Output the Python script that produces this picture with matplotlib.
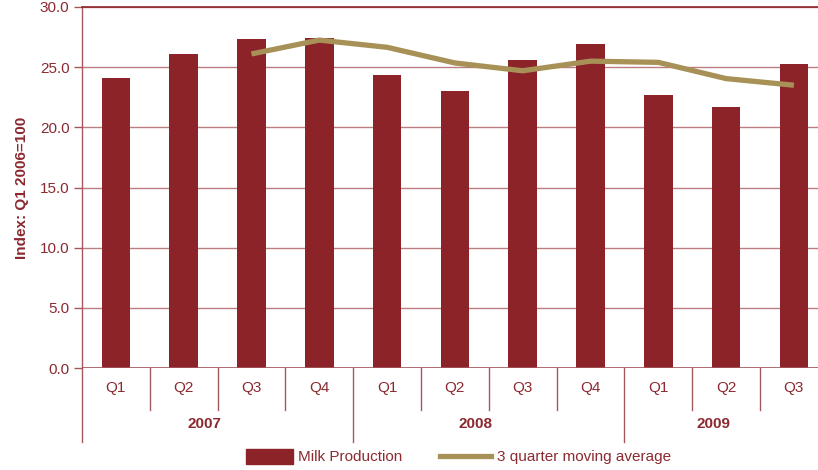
import matplotlib
matplotlib.use("Agg")
import matplotlib.pyplot as plt
from matplotlib.patches import Rectangle
from matplotlib.lines import Line2D
import matplotlib.transforms as mtransforms

plt.rcParams['font.family'] = ['Liberation Sans', 'DejaVu Sans']

quarters = ["Q1", "Q2", "Q3", "Q4", "Q1", "Q2", "Q3", "Q4", "Q1", "Q2", "Q3"]
years = ["2007", "2008", "2009"]
year_sizes = [4, 4, 3]
milk_production = [24.1, 26.1, 27.35, 27.4, 24.35, 23.05, 25.6, 26.95, 22.7, 21.7, 25.25]
moving_average = [None, None, 26.1, 27.25, 26.65, 25.35, 24.7, 25.5, 25.4, 24.05, 23.5]
y_ticks = [0.0, 5.0, 10.0, 15.0, 20.0, 25.0, 30.0]

BAR = "#8b2329"
LINE = "#a89157"
TEXT = "#8b2a30"
GRID = "#bb7d81"
AXIS = "#a5575c"

W, H = 818, 470
fig = plt.figure(figsize=(W / 100, H / 100), dpi=100)
ax = fig.add_axes([82 / W, (H - 368) / H, 11 * 67.8 / W, 361 / H])

x = list(range(len(quarters)))
ax.bar(x, milk_production, width=0.42, color=BAR, zorder=3)
ma_x = [i for i, v in zip(x, moving_average) if v is not None]
ma_y = [v for v in moving_average if v is not None]
ax.plot(ma_x, ma_y, color=LINE, lw=3.8, zorder=4, solid_capstyle="butt")

ax.set_xlim(-0.5, len(quarters) - 0.5)
ax.set_ylim(0, 30)
ax.set_yticks(y_ticks)
ax.set_yticklabels([f"{t:.1f}" for t in y_ticks], color=TEXT, fontsize=11)
ax.tick_params(axis="y", length=6, width=1, color=AXIS, pad=3)
ax.set_xticks([])
ax.grid(axis="y", color=GRID, lw=1, zorder=0)
for side in ["right", "left", "bottom"]:
    ax.spines[side].set_visible(False)
ax.spines["top"].set_color(BAR)
ax.spines["top"].set_linewidth(1.2)
ax.axhline(0, color=AXIS, lw=1.2, zorder=5)

ax.set_ylabel("Index: Q1 2006=100", color=TEXT, fontsize=11, fontweight="bold", labelpad=8)

trans = mtransforms.blended_transform_factory(ax.transData, ax.transAxes)
# left axis line running down through the category rows
ax.plot([-0.5, -0.5], [1, -0.205], transform=trans, color=AXIS, lw=1, clip_on=False)

# quarter labels and dividers
for i, q in enumerate(quarters):
    ax.text(i, -0.055, q, transform=trans, ha="center", va="center", color=TEXT, fontsize=11)
start = 0
boundaries = set()
for n in year_sizes:
    start += n
    boundaries.add(start - 0.5)
for k in range(1, len(quarters)):
    xb = k - 0.5
    low = -0.205 if xb in boundaries else -0.115
    ax.plot([xb, xb], [0, low], transform=trans, color=AXIS, lw=1, clip_on=False)

# year labels
start = 0
for yr, n in zip(years, year_sizes):
    center = start - 0.5 + n / 2 - 0.19
    ax.text(center, -0.155, yr, transform=trans, ha="center", va="center",
            color=TEXT, fontsize=11, fontweight="bold")
    start += n

# legend
fig.patches.append(Rectangle((246 / W, 1 - 464 / H), 47 / W, 15 / H,
                             transform=fig.transFigure, color=BAR))
fig.text(298 / W, 1 - 457 / H, "Milk Production", color=TEXT, fontsize=11, va="center")
fig.lines.append(Line2D([440 / W, 491 / W], [1 - 456 / H, 1 - 456 / H],
                        transform=fig.transFigure, color=LINE, lw=3.8))
fig.text(497 / W, 1 - 457 / H, "3 quarter moving average", color=TEXT, fontsize=11, va="center")

fig.savefig("out.png", dpi=100)
